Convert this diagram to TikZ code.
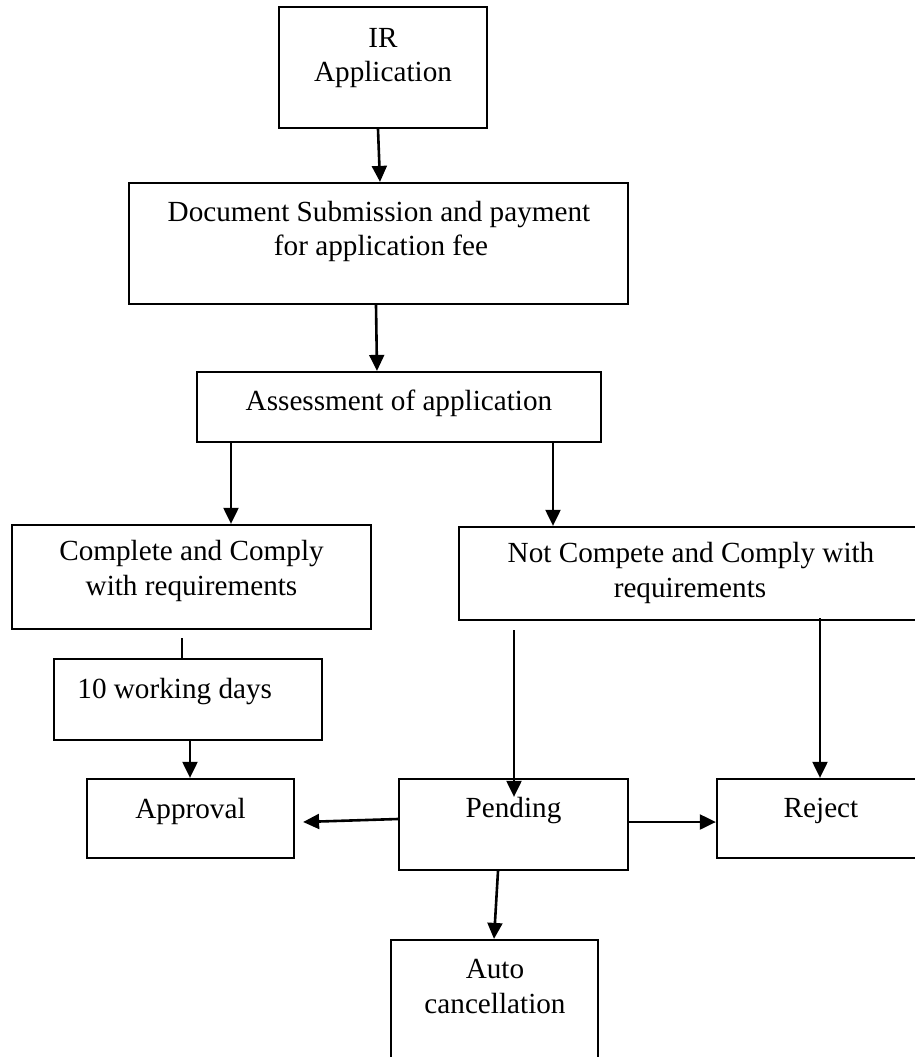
\documentclass[tikz,border=0pt]{standalone}
\usepackage{fontspec}
\setmainfont{Liberation Serif}
\usetikzlibrary{arrows.meta,calc}
\begin{document}
\begin{tikzpicture}[x=0.5pt,y=-0.5pt,
  box/.style={draw,line width=1.1pt,inner sep=0pt,rectangle},
  txt/.style={inner sep=0pt,anchor=base,font=\fontsize{14.6}{17}\selectfont},
  arr/.style={line width=1.3pt,-{Triangle[length=8pt,width=7.4pt]}},
  ln/.style={line width=1.3pt}]
\clip (0,0) rectangle (915,1057);
\fill[white] (0,0) rectangle (915,1057);
% boxes
\node[box,minimum width=104pt,minimum height=60.5pt] (ir) at (383,67.5) {};
\node[box,minimum width=249.5pt,minimum height=60.5pt] (doc) at (378.5,243.5) {};
\node[box,minimum width=202pt,minimum height=35pt] (asmt) at (399,407) {};
\node[box,minimum width=179.5pt,minimum height=52pt] (comp) at (191.5,577) {};
\node[box,minimum width=232pt,minimum height=46.5pt] (notc) at (691,573.5) {};
\node[box,minimum width=134pt,minimum height=40.5pt] (days) at (188,699.5) {};
\node[box,minimum width=103.5pt,minimum height=39.5pt] (appr) at (190.5,818.5) {};
\node[box,minimum width=114.5pt,minimum height=45.5pt] (pend) at (513.5,824.5) {};
\node[box,minimum width=104pt,minimum height=39.5pt] (rej) at (821,818.5) {};
\node[box,minimum width=103.5pt,minimum height=70pt] (auto) at (494.5,1010) {};
% texts
\node[txt] (t1) at (383,47) {IR};
\node[txt] (t2) at (383,81) {Application};
\node[txt] (t3) at (379,221) {Document Submission and payment};
\node[txt] (t4) at (381,255) {for application fee};
\node[txt] (t5) at (399,410) {Assessment of application};
\node[txt] (t6) at (191.5,560) {Complete and Comply};
\node[txt] (t7) at (191.5,595) {with requirements};
\node[txt] (t8) at (691,562) {Not Compete and Comply with};
\node[txt] (t9) at (690,597) {requirements};
\node[txt,anchor=base west] (t10) at (77,698) {10 working days};
\node[txt] (t11) at (190.5,818) {Approval};
\node[txt] (t12) at (513.5,817) {Pending};
\node[txt] (t13) at (821,817) {Reject};
\node[txt] (t14) at (495,978) {Auto};
\node[txt] (t15) at (495,1013) {cancellation};
% connectors
\draw[arr] ($(ir.south)+(-5,0)$) -- ($(doc.north)+(1.5,0)$);
\draw[arr] ($(doc.south)+(-2.5,0)$) -- ($(asmt.north)+(-22,0)$);
\draw[arr] ($(asmt.south)+(-168,0)$) -- ($(comp.north)+(39.5,0)$);
\draw[arr] ($(asmt.south)+(154,0)$) -- ($(notc.north)+(-138,0)$);
\draw[ln] ($(comp.south)+(-9.5,8)$) -- ($(days.north)+(-6,0)$);
\draw[arr] ($(days.south)+(2,0)$) -- ($(appr.north)+(-0.5,0)$);
\draw[arr] ($(notc.south)+(-177,9)$) -- ($(pend.north)+(0.5,19)$);
\draw[arr] ($(notc.south)+(129,-3)$) -- ($(rej.north)+(-1,0)$);
\draw[arr] ($(pend.east)+(0,-2.5)$) -- ($(rej.west)+(0,3.5)$);
\draw[arr] ($(pend.west)+(0,-5.5)$) -- ($(appr.east)+(8,3.5)$);
\draw[arr] ($(pend.south)+(-15.5,0)$) -- ($(auto.north)+(-0.5,0)$);
\end{tikzpicture}
\end{document}
